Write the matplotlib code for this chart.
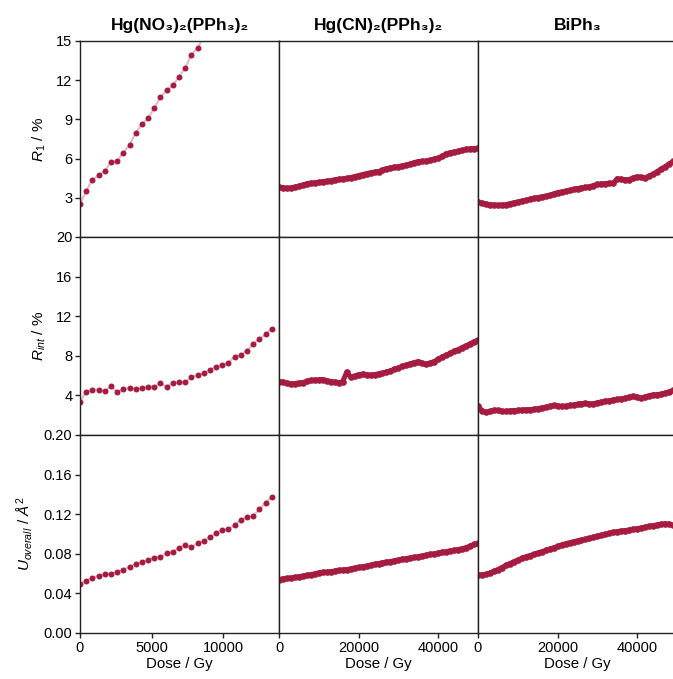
import numpy as np
import matplotlib.pyplot as plt

plt.rcParams['font.family'] = ['Liberation Sans', 'DejaVu Sans']
plt.rcParams['mathtext.fontset'] = 'custom'
plt.rcParams['mathtext.rm'] = 'Liberation Sans'
plt.rcParams['mathtext.it'] = 'Liberation Sans:italic'

red = '#A51C40'

titles = ['Hg(NO₃)₂(PPh₃)₂', 'Hg(CN)₂(PPh₃)₂', 'BiPh₃']
ylabels = ['$R_\\mathrm{1}$ / %', '$R_{int}$ / %', '$U_{overall}$ / $\\mathit{Å}^{2}$']

# Hg(NO3)2(PPh3)2 - sparse dose series
dose_no3 = [0, 430, 860, 1300, 1730, 2160, 2590, 3020, 3460, 3890, 4320, 4750,
            5180, 5620, 6050, 6480, 6910, 7340, 7780, 8210, 8640, 9070, 9500,
            9940, 10370, 10800, 11230, 11660, 12100, 12530, 12960, 13390]
r1_no3 = [2.50, 3.52, 4.36, 4.72, 5.05, 5.74, 5.79, 6.45, 7.04, 7.98, 8.62,
          9.08, 9.85, 10.69, 11.22, 11.60, 12.27, 12.91, 13.93, 14.48, 15.30]
rint_no3 = [3.37, 4.34, 4.55, 4.55, 4.41, 4.95, 4.34, 4.61, 4.75, 4.61, 4.71,
            4.88, 4.88, 5.22, 4.88, 5.22, 5.39, 5.32, 5.83, 6.06, 6.23, 6.57,
            6.90, 7.07, 7.31, 7.91, 8.08, 8.52, 9.19, 9.70, 10.17, 10.74]
u_no3 = [0.0492, 0.0529, 0.0556, 0.0579, 0.0596, 0.0596, 0.0620, 0.0636,
         0.0670, 0.0697, 0.0717, 0.0737, 0.0761, 0.0771, 0.0805, 0.0822,
         0.0855, 0.0889, 0.0865, 0.0906, 0.0929, 0.0966, 0.1007, 0.1040,
         0.1047, 0.1091, 0.1141, 0.1168, 0.1182, 0.1249, 0.1316, 0.1377]

# dense dose series (Hg(CN)2(PPh3)2 and BiPh3)
dose_dense = [0, 1000, 2000, 3000, 4000, 5000, 6000, 7000, 8000, 9000,
              10000, 11000, 12000, 13000, 14000, 15000, 16000, 17000, 18000, 19000,
              20000, 21000, 22000, 23000, 24000, 25000, 26000, 27000, 28000, 29000,
              30000, 31000, 32000, 33000, 34000, 35000, 36000, 37000, 38000, 39000,
              40000, 41000, 42000, 43000, 44000, 45000, 46000, 47000, 48000, 49000,
              50000]

r1_cn = [3.82, 3.78, 3.72, 3.76, 3.82, 3.88, 3.98, 4.08, 4.13, 4.15,
         4.18, 4.24, 4.27, 4.31, 4.38, 4.42, 4.45, 4.48, 4.55, 4.63,
         4.70, 4.78, 4.85, 4.92, 4.96, 5.01, 5.12, 5.23, 5.29, 5.34,
         5.39, 5.44, 5.50, 5.58, 5.70, 5.77, 5.79, 5.81, 5.88, 5.96,
         6.04, 6.18, 6.37, 6.45, 6.50, 6.55, 6.63, 6.71, 6.75, 6.77,
         6.80]
rint_cn = [5.40, 5.36, 5.22, 5.16, 5.20, 5.26, 5.30, 5.42, 5.52, 5.55,
           5.58, 5.60, 5.50, 5.40, 5.35, 5.30, 5.38, 6.35, 5.85, 5.95,
           6.10, 6.15, 6.10, 6.05, 6.10, 6.18, 6.25, 6.35, 6.48, 6.62,
           6.78, 6.92, 7.05, 7.20, 7.32, 7.42, 7.25, 7.15, 7.28, 7.42,
           7.65, 7.88, 8.05, 8.25, 8.45, 8.62, 8.82, 9.02, 9.20, 9.42,
           9.60]
u_cn = [0.0540, 0.0548, 0.0552, 0.0556, 0.0562, 0.0568, 0.0575, 0.0582, 0.0590, 0.0598,
        0.0608, 0.0612, 0.0616, 0.0620, 0.0626, 0.0632, 0.0636, 0.0641, 0.0648, 0.0656,
        0.0664, 0.0670, 0.0676, 0.0684, 0.0693, 0.0702, 0.0710, 0.0716, 0.0722, 0.0730,
        0.0738, 0.0745, 0.0752, 0.0758, 0.0764, 0.0772, 0.0779, 0.0786, 0.0793, 0.0800,
        0.0808, 0.0815, 0.0822, 0.0829, 0.0836, 0.0843, 0.0852, 0.0862, 0.0878, 0.0895,
        0.0905]

r1_bi = [2.68, 2.58, 2.52, 2.48, 2.45, 2.42, 2.44, 2.47, 2.55, 2.62,
         2.68, 2.74, 2.80, 2.87, 2.96, 3.02, 3.08, 3.12, 3.18, 3.30,
         3.40, 3.45, 3.50, 3.56, 3.64, 3.71, 3.76, 3.80, 3.85, 3.94,
         4.02, 4.06, 4.09, 4.10, 4.12, 4.46, 4.42, 4.37, 4.40, 4.52,
         4.62, 4.56, 4.53, 4.66, 4.80, 5.00, 5.20, 5.38, 5.58, 5.78,
         5.85]
rint_bi = [2.95, 2.45, 2.28, 2.38, 2.50, 2.48, 2.40, 2.38, 2.44, 2.47,
           2.48, 2.52, 2.55, 2.57, 2.60, 2.66, 2.74, 2.80, 2.90, 2.98,
           2.95, 2.88, 2.90, 2.98, 3.04, 3.10, 3.18, 3.20, 3.15, 3.16,
           3.25, 3.33, 3.40, 3.47, 3.54, 3.60, 3.66, 3.72, 3.82, 3.90,
           3.80, 3.72, 3.85, 3.98, 4.05, 4.08, 4.12, 4.22, 4.35, 4.50,
           4.55]
u_bi = [0.0586, 0.0589, 0.0592, 0.0606, 0.0623, 0.0641, 0.0661, 0.0682, 0.0702, 0.0720,
        0.0737, 0.0754, 0.0769, 0.0782, 0.0795, 0.0808, 0.0821, 0.0834, 0.0847, 0.0861,
        0.0876, 0.0890, 0.0902, 0.0912, 0.0922, 0.0931, 0.0939, 0.0947, 0.0955, 0.0966,
        0.0976, 0.0986, 0.0996, 0.1006, 0.1016, 0.1025, 0.1030, 0.1035, 0.1040, 0.1047,
        0.1054, 0.1061, 0.1069, 0.1077, 0.1085, 0.1092, 0.1098, 0.1104, 0.1100, 0.1088,
        0.1085]

doses = [dose_no3, dose_dense, dose_dense]
series = [[r1_no3, r1_cn, r1_bi],
          [rint_no3, rint_cn, rint_bi],
          [u_no3, u_cn, u_bi]]

ylims = [15, 20, 0.20]
yticks = [[3, 6, 9, 12, 15], [4, 8, 12, 16, 20], [0, 0.04, 0.08, 0.12, 0.16, 0.20]]
xlims = [13900, 50000, 50000]
xticks = [[0, 5000, 10000], [0, 20000, 40000], [0, 20000, 40000]]

W, H = 673, 679
fig = plt.figure(figsize=(W / 100, H / 100), dpi=100)
col_left = [80, 279, 478]
row_edges = [41, 237, 435, 633]

for r in range(3):
    for c in range(3):
        top, bot = row_edges[r], row_edges[r + 1]
        ax = fig.add_axes([col_left[c] / W, (H - bot) / H, 199 / W, (bot - top) / H])
        x = doses[c]
        y = series[r][c]
        if c == 0:
            ax.plot(x[:len(y)], y, '-', color=red, alpha=0.3, lw=1.5, zorder=1)
            ax.plot(x[:len(y)], y, 'o', color=red, ms=4.3, mew=0, zorder=2)
        else:
            # dense runs: markers overlap into a continuous band
            ax.plot(x, y, '-', color=red, lw=3.6, solid_capstyle='round', zorder=1)
            ax.plot(x, y, 'o', color=red, ms=4.8, mew=0, zorder=2)
        ax.set_xlim(0, xlims[c])
        ax.set_ylim(0, ylims[r])
        for s in ax.spines.values():
            s.set_color('#222222')
            s.set_linewidth(1.0)
        ax.tick_params(direction='out', length=3.5, width=1.0, color='#222222',
                       labelsize=10.5, pad=2)
        if c == 0:
            ax.set_yticks(yticks[r])
            if r == 2:
                ax.set_yticklabels([f'{v:.2f}' for v in yticks[r]])
            ax.set_ylabel(ylabels[r], fontsize=11, labelpad=6)
        else:
            ax.tick_params(axis='y', left=False, labelleft=False)
        if r == 2:
            ax.set_xticks(xticks[c])
            ax.set_xlabel('Dose / Gy', fontsize=10.8, labelpad=2)
        else:
            ax.tick_params(axis='x', bottom=False, labelbottom=False)
        if r == 0:
            ax.set_title(titles[c], fontsize=12.5, fontweight='bold', pad=8)

fig.savefig('out.png', dpi=100)
